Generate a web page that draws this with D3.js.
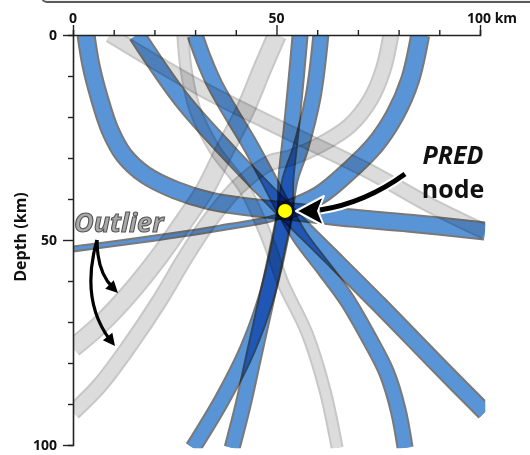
<!DOCTYPE html>
<html>
<head>
<meta charset="utf-8">
<script src="https://cdn.jsdelivr.net/npm/d3@7"></script>
<style>
  body { margin: 0; background: #fff; }
  svg { display: block; font-family: "Open Sans", "DejaVu Sans", sans-serif; background: #fff; }
  .ray { mix-blend-mode: multiply; }
</style>
</head>
<body>
<svg width="530" height="455"></svg>
<script>
// ray paths, [distance km, depth km]
var rayA = [[3.2,0],[4.4,7.3],[6.4,15.1],[9.1,23.2],[12.5,29.3],[17.7,34.1],[25.1,37.8],[33.7,40.5],[43.5,42.0],[52.1,42.9],[65.6,44.4],[82.8,45.9],[101.2,47.8]];
var rayC = [[15.7,0],[26.8,15.9],[38.1,28.5],[52.1,42.9],[63.1,53.7],[75.4,65.9],[90.2,81.0],[101.2,92.0]];
var rayD = [[30.0,0],[32.2,6.1],[34.9,12.2],[39.1,19.5],[43.5,26.8],[47.9,34.9],[52.1,42.9],[55.8,49.3],[61.9,57.3],[67.3,64.6],[73.0,74.4],[77.1,82.4],[79.9,91.5],[81.6,100.7]];
var rayF = [[55.8,0],[54.8,11.0],[53.6,23.2],[52.3,35.4],[52.1,42.9],[50.4,52.4],[47.3,64.6],[42.8,76.8],[36.6,89.0],[29.5,100.7]];
var rayG = [[60.9,0],[59.0,15.1],[55.8,28.0],[53.3,35.4],[52.1,42.9],[49.9,53.7],[47.5,64.6],[44.5,78.0],[41.8,90.2],[39.1,100.7]];
var rayH = [[85.3,0],[82.8,11.0],[79.1,19.5],[74.2,26.8],[68.1,32.9],[60.7,39.0],[52.1,42.9]];
var rayThin = [[0,52.2],[11.5,50.7],[23.8,49.0],[36.1,47.1],[48.4,44.9],[52.1,43.7]];

// outlier rays (gray)
var grayA = [[9.1,0],[31.2,12.9],[53.3,23.9],[73.0,33.4],[87.7,41.5],[101.2,48.0]];
var grayB = [[27.0,0],[27.8,8.5],[30.0,18.3],[34.9,28.0],[42.3,37.8],[47.9,50.0],[51.6,60.5],[57.5,72.7],[61.9,86.6],[64.9,100.7]];
var grayC = [[50.1,0],[46.4,8.5],[42.3,18.3],[37.3,28.0],[32.4,37.8],[27.5,45.1],[21.4,53.7],[14.0,62.9],[6.6,70.7],[0,76.3]];
var grayD = [[78.1,0],[76.2,8.5],[73.0,15.9],[68.1,22.0],[60.7,26.8],[53.3,30.0],[48.4,31.2],[41.0,36.6],[33.7,45.1],[27.5,54.4],[21.4,64.6],[14.0,75.6],[6.6,85.4],[0,92.0]];

var node = [52.1, 42.9];
var xTicks = d3.range(0, 101, 10);
var yTicks = d3.range(0, 101, 10);
var xLabels = [0, 50, 100];
var yLabels = [0, 50, 100];

var svg = d3.select("svg");
var x = d3.scaleLinear().domain([0, 100]).range([73, 480]);
var y = d3.scaleLinear().domain([0, 100]).range([35, 445]);

// panel edge above the plot
svg.append("rect")
    .attr("x", 42).attr("y", -25).attr("width", 600).attr("height", 27)
    .attr("rx", 5)
    .attr("fill", "#f3f3f3").attr("stroke", "#5a5a5a").attr("stroke-width", 2);

svg.append("clipPath").attr("id", "plot")
    .append("rect")
    .attr("x", x(0)).attr("y", y(0))
    .attr("width", x(101.3) - x(0)).attr("height", y(100.8) - y(0));

var line = d3.line()
    .x(function(d) { return x(d[0]); })
    .y(function(d) { return y(d[1]); })
    .curve(d3.curveCatmullRom.alpha(0.5));

var rays = svg.append("g").attr("clip-path", "url(#plot)");

function band(pts, w, fill, edge, op) {
    var g = rays.append("g").attr("class", "ray").attr("opacity", op);
    g.append("path").attr("d", line(pts))
        .attr("fill", "none").attr("stroke", edge)
        .attr("stroke-width", w);
    g.append("path").attr("d", line(pts))
        .attr("fill", "none").attr("stroke", fill)
        .attr("stroke-width", w - 4);
}

var grayFill = "#d6d6d6", grayEdge = "#bdbdbd";
band(grayD, 17, grayFill, grayEdge, 0.85);
band(grayC, 20, grayFill, grayEdge, 0.85);
band(grayA, 16, grayFill, grayEdge, 0.85);
band(grayB, 13, grayFill, grayEdge, 0.85);

var blue = "#4788d3", blueEdge = "#6a6a6a";
band(rayA, 19, blue, blueEdge, 0.9);
band(rayC, 18, blue, blueEdge, 0.9);
band(rayD, 17, blue, blueEdge, 0.9);
band(rayF, 17, blue, blueEdge, 0.9);
band(rayG, 17, blue, blueEdge, 0.9);
band(rayH, 20, blue, blueEdge, 0.9);
band(rayThin, 7, blue, blueEdge, 0.9);

// axes
var topAxis = svg.append("g").attr("transform", "translate(0," + y(0) + ")")
    .call(d3.axisTop(x).tickValues(xTicks).tickSize(5).tickFormat(""));
var leftAxis = svg.append("g").attr("transform", "translate(" + x(0) + ",0)")
    .call(d3.axisLeft(y).tickValues(yTicks).tickSize(5).tickFormat(""));
[topAxis, leftAxis].forEach(function(a) {
    a.select(".domain").attr("stroke", "#222").attr("stroke-width", 1.6);
    a.selectAll(".tick line").attr("stroke", "#222").attr("stroke-width", 1.4);
});
topAxis.selectAll(".tick line").filter(function(d) { return xLabels.indexOf(d) >= 0; }).attr("y2", -10);
leftAxis.selectAll(".tick line").filter(function(d) { return yLabels.indexOf(d) >= 0; }).attr("x2", -10);

svg.selectAll(".xlab").data(xLabels).enter().append("text")
    .attr("x", function(d) { return x(d); })
    .attr("y", 23)
    .attr("text-anchor", function(d) { return d === 100 ? "start" : "middle"; })
    .attr("dx", function(d) { return d === 100 ? -13 : 0; })
    .attr("font-size", 14).attr("font-weight", "bold").attr("fill", "#111")
    .text(function(d) { return d === 100 ? "100 km" : d; });

svg.selectAll(".ylab").data(yLabels).enter().append("text")
    .attr("x", 57)
    .attr("y", function(d) { return y(d); })
    .attr("dy", "0.36em")
    .attr("text-anchor", "end")
    .attr("font-size", 14).attr("font-weight", "bold").attr("fill", "#111")
    .text(function(d) { return d; });

svg.append("text")
    .attr("transform", "translate(26,237) rotate(-90)")
    .attr("text-anchor", "middle")
    .attr("font-size", 16).attr("font-weight", "bold").attr("fill", "#111")
    .text("Depth (km)");

// node
svg.append("circle")
    .attr("cx", x(node[0])).attr("cy", y(node[1])).attr("r", 8)
    .attr("fill", "#ffff00").attr("stroke", "#111").attr("stroke-width", 2);

// PRED node label + arrow
var shaft = "M405,174 Q365,203 320,210";
svg.append("path").attr("d", shaft).attr("fill", "none")
    .attr("stroke", "#fff").attr("stroke-width", 9);
svg.append("path").attr("d", "M296,211 L324,196 L318,211 L324,226 Z")
    .attr("fill", "#000").attr("stroke", "#fff").attr("stroke-width", 2).attr("stroke-linejoin", "round");
svg.append("path").attr("d", shaft).attr("fill", "none")
    .attr("stroke", "#000").attr("stroke-width", 5);

svg.append("text").attr("x", 453).attr("y", 164)
    .attr("text-anchor", "middle")
    .attr("font-size", 25).attr("font-weight", "bold").attr("font-style", "italic")
    .attr("fill", "#111").text("PRED");
svg.append("text").attr("x", 453).attr("y", 198)
    .attr("text-anchor", "middle")
    .attr("font-size", 25).attr("font-weight", "bold")
    .attr("fill", "#111").text("node");

// Outlier label + arrows
svg.append("text").attr("x", 74).attr("y", 232)
    .attr("font-size", 27).attr("font-weight", "bold").attr("font-style", "italic")
    .attr("fill", "#a9a9a9").attr("stroke", "#555").attr("stroke-width", 1.1)
    .text("Outlier");

var arrows = [
    {d: "M97,240 Q97,272 113,288", tip: [118, 293], ang: 45},
    {d: "M97,240 Q80,300 110,340", tip: [115, 346], ang: 52}
];
arrows.forEach(function(a) {
    svg.append("path").attr("d", a.d).attr("fill", "none")
        .attr("stroke", "#000").attr("stroke-width", 3.2);
    svg.append("path").attr("d", "M0,0 L-12,-6 L-12,6 Z")
        .attr("transform", "translate(" + a.tip[0] + "," + a.tip[1] + ") rotate(" + a.ang + ")")
        .attr("fill", "#000");
});
</script>
</body>
</html>
